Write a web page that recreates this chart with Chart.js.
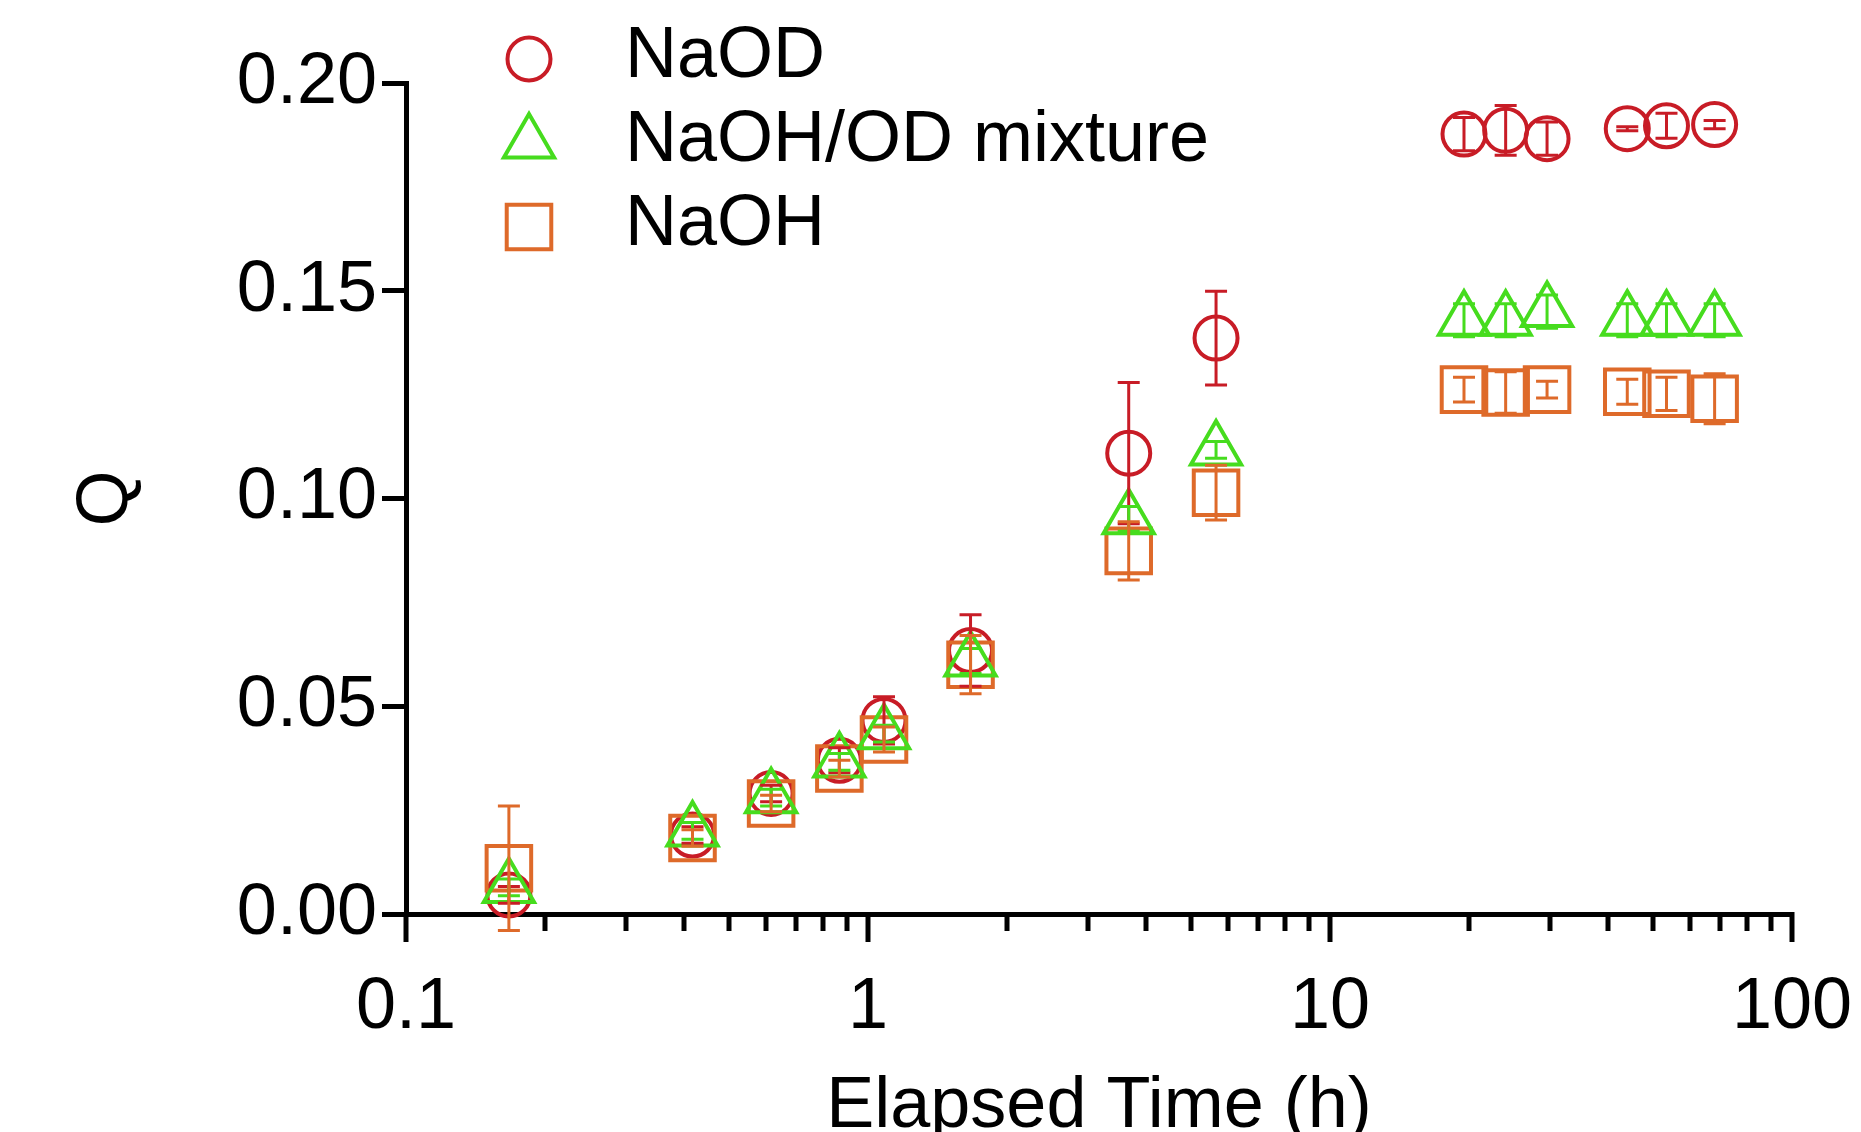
<!DOCTYPE html>
<html>
<head>
<meta charset="utf-8">
<script src="https://cdn.jsdelivr.net/npm/chart.js@4.4.1/dist/chart.umd.min.js"></script>
<style>
  html, body { margin: 0; padding: 0; background: #fff; }
  #wrap { width: 1861px; height: 1132px; }
</style>
</head>
<body>
<div id="wrap"><canvas id="qChart" width="1861" height="1132"></canvas></div>
<script>
// elapsed time (h) of each sampling point
const timesH = [0.167, 0.417, 0.617, 0.867, 1.083, 1.667, 3.667, 5.667, 19.5, 24, 29.5, 44, 53.5, 68];

// Q values and error bars per solution
const naodQ   = [0.0046, 0.019, 0.029, 0.037, 0.0466, 0.0634, 0.1109, 0.1386, 0.1877, 0.1886, 0.1866, 0.1890, 0.1897, 0.1900];
const naodErr = [0.002, 0.002, 0.002, 0.003, 0.0057, 0.0086, 0.0170, 0.0113, 0.0040, 0.0060, 0.0040, 0.0005, 0.0030, 0.0010];
const mixQ    = [0.0064, 0.0200, 0.0280, 0.0366, 0.0434, 0.0609, 0.0951, 0.1117, 0.1429, 0.1429, 0.1450, 0.1429, 0.1429, 0.1429];
const mixErr  = [0.002, 0.002, 0.002, 0.002, 0.002, 0.003, 0.003, 0.002, 0.004, 0.004, 0.004, 0.004, 0.004, 0.004];
const naohQ   = [0.0110, 0.0183, 0.0266, 0.0350, 0.0420, 0.0600, 0.0874, 0.1014, 0.1262, 0.1255, 0.1262, 0.1257, 0.1252, 0.1240];
const naohErr = [0.0150, 0.002, 0.002, 0.002, 0.003, 0.007, 0.007, 0.0066, 0.003, 0.005, 0.002, 0.003, 0.004, 0.006];

const seriesLabels = ["NaOD", "NaOH/OD mixture", "NaOH"];

// axis ticks
const xMajorTicks = [0.1, 1, 10, 100];
const xMinorTicks = [0.2, 0.3, 0.4, 0.5, 0.6, 0.7, 0.8, 0.9, 2, 3, 4, 5, 6, 7, 8, 9, 20, 30, 40, 50, 60, 70, 80, 90];
const yTicks = [0, 0.05, 0.10, 0.15, 0.20];

const FONT = '"Liberation Sans", Arial, Helvetica, sans-serif';
const RED = '#c81c26';
const GREEN = '#46dc1e';
const ORANGE = '#de6a2a';

function toPoints(ys) {
  return timesH.map((t, i) => ({ x: t, y: ys[i] }));
}

const errorsByDataset = [naodErr, mixErr, naohErr];

// error bars drawn from the scales
const errorBarPlugin = {
  id: 'errorBars',
  afterDatasetsDraw(chart) {
    const { ctx, scales: { y } } = chart;
    ctx.save();
    ctx.lineWidth = 3;
    const cap = 11;
    chart.data.datasets.forEach((ds, di) => {
      const meta = chart.getDatasetMeta(di);
      const errs = errorsByDataset[di];
      ctx.strokeStyle = ds.borderColor;
      meta.data.forEach((pt, i) => {
        const v = ds.data[i].y;
        const yTop = y.getPixelForValue(v + errs[i]);
        const yBot = y.getPixelForValue(v - errs[i]);
        ctx.beginPath();
        ctx.moveTo(pt.x, yTop); ctx.lineTo(pt.x, yBot);
        ctx.moveTo(pt.x - cap, yTop); ctx.lineTo(pt.x + cap, yTop);
        ctx.moveTo(pt.x - cap, yBot); ctx.lineTo(pt.x + cap, yBot);
        ctx.stroke();
      });
    });
    ctx.restore();
  }
};

// log axis tick marks: long for decades, short in between
const xTickPlugin = {
  id: 'xTickMarks',
  afterDraw(chart) {
    const { ctx, chartArea, scales: { x } } = chart;
    ctx.save();
    ctx.strokeStyle = '#000';
    ctx.lineWidth = 5;
    const draw = (vals, len) => vals.forEach(v => {
      const px = Math.round(x.getPixelForValue(v));
      ctx.beginPath();
      ctx.moveTo(px, chartArea.bottom - 2);
      ctx.lineTo(px, chartArea.bottom + len);
      ctx.stroke();
    });
    draw(xMajorTicks, 28);
    draw(xMinorTicks, 17);
    ctx.restore();
  }
};

// legend inside the plot, top left
const insideLegend = {
  id: 'insideLegend',
  afterDraw(chart) {
    const { ctx } = chart;
    ctx.save();
    ctx.font = '72px ' + FONT;
    ctx.textBaseline = 'middle';
    chart.data.datasets.forEach((ds, i) => {
      const ly = 59 + i * 84;
      ctx.fillStyle = 'rgba(0,0,0,0)';
      ctx.strokeStyle = ds.borderColor;
      ctx.lineWidth = ds.pointBorderWidth;
      Chart.helpers.drawPoint(ctx, {
        pointStyle: ds.pointStyle, radius: ds.pointRadius, rotation: 0, borderWidth: ds.pointBorderWidth
      }, 529, ly);
      ctx.fillStyle = '#000';
      ctx.fillText(ds.label, 625, ly - 2);
    });
    ctx.restore();
  }
};

const ctx = document.getElementById('qChart').getContext('2d');
window.qChart = new Chart(ctx, {
  type: 'scatter',
  data: {
    datasets: [
      {
        label: seriesLabels[0],
        data: toPoints(naodQ),
        pointStyle: 'circle',
        pointRadius: 21.5,
        pointBorderWidth: 4,
        borderColor: RED,
        pointBackgroundColor: 'rgba(0,0,0,0)',
        order: 3,
        clip: false
      },
      {
        label: seriesLabels[1],
        data: toPoints(mixQ),
        pointStyle: 'triangle',
        pointRadius: 29,
        pointBorderWidth: 4,
        borderColor: GREEN,
        pointBackgroundColor: 'rgba(0,0,0,0)',
        order: 1,
        clip: false
      },
      {
        label: seriesLabels[2],
        data: toPoints(naohQ),
        pointStyle: 'rect',
        pointRadius: 31.5,
        pointBorderWidth: 4,
        borderColor: ORANGE,
        pointBackgroundColor: 'rgba(0,0,0,0)',
        order: 2,
        clip: false
      }
    ]
  },
  options: {
    responsive: false,
    animation: false,
    devicePixelRatio: 1,
    layout: { padding: { top: 83, right: 69, bottom: 0, left: 0 } },
    plugins: {
      legend: { display: false },
      tooltip: { enabled: false }
    },
    scales: {
      x: {
        type: 'logarithmic',
        min: 0.1,
        max: 100,
        afterBuildTicks(axis) {
          axis.ticks = xMajorTicks.map(v => ({ value: v, major: true }));
        },
        afterFit(axis) { axis.height = 218; },
        // invisible tick marks only push the labels down; real marks come from xTickPlugin
        grid: { display: true, drawOnChartArea: false, tickLength: 47, tickColor: 'rgba(0,0,0,0)' },
        border: { display: true, color: '#000', width: 5 },
        ticks: {
          autoSkip: false,
          maxRotation: 0,
          padding: 4,
          color: '#000',
          font: { family: FONT, size: 72 },
          callback: v => String(v)
        },
        title: {
          display: true,
          text: 'Elapsed Time (h)',
          color: '#000',
          font: { family: FONT, size: 72, lineHeight: 0.7 },
          padding: { top: 0, bottom: 0 }
        }
      },
      y: {
        min: 0,
        max: 0.2,
        afterBuildTicks(axis) {
          axis.ticks = yTicks.map(v => ({ value: v }));
        },
        afterFit(axis) { axis.width = 406; },
        grid: { drawOnChartArea: false, tickLength: 24, tickWidth: 5, tickColor: '#000' },
        border: { display: true, color: '#000', width: 5 },
        ticks: {
          padding: 5,
          color: '#000',
          font: { family: FONT, size: 72 },
          callback: v => Number(v).toFixed(2)
        },
        title: {
          display: true,
          text: 'Q',
          color: '#000',
          font: { family: FONT, size: 72, lineHeight: 1.2 },
          padding: { top: 64, bottom: 0 }
        }
      }
    }
  },
  plugins: [errorBarPlugin, xTickPlugin, insideLegend]
});
</script>
</body>
</html>
